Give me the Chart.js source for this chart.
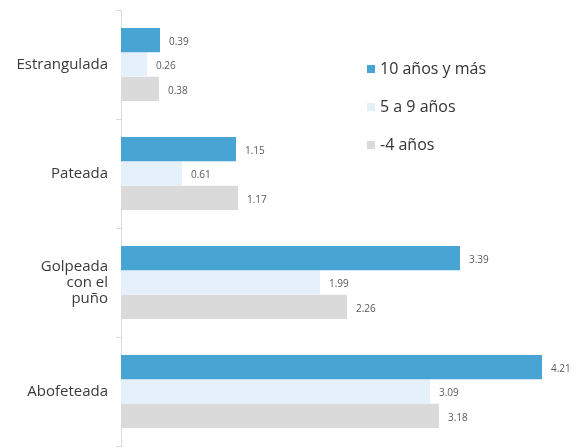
<!DOCTYPE html>
<html>
<head>
<meta charset="utf-8">
<script src="https://cdn.jsdelivr.net/npm/chart.js@4.4.1/dist/chart.umd.min.js"></script>
<style>
  html, body { margin: 0; padding: 0; background: #fff; }
  #wrap { width: 580px; height: 448px; position: relative; }
</style>
</head>
<body>
<div id="wrap"><canvas id="chart"></canvas></div>
<script>
const categories = ["Estrangulada", "Pateada", ["Golpeada", "con el", "puño"], "Abofeteada"];
const seriesNames = ["10 años y más", "5 a 9 años", "-4 años"];
const tenPlus = [0.39, 1.15, 3.39, 4.21];
const fiveToNine = [0.26, 0.61, 1.99, 3.09];
const underFour = [0.38, 1.17, 2.26, 3.18];
const colors = ["#48a5d3", "#e6f0fa", "#dadada"];

// value labels at the end of each bar
const valueLabels = {
  id: "valueLabels",
  afterDatasetsDraw(chart) {
    const ctx = chart.ctx;
    ctx.save();
    ctx.font = "10px 'Open Sans'";
    ctx.fillStyle = "#5a5a5a";
    ctx.textBaseline = "middle";
    ctx.textAlign = "left";
    chart.data.datasets.forEach((ds, i) => {
      chart.getDatasetMeta(i).data.forEach((bar, j) => {
        ctx.fillText(ds.data[j].toFixed(2), bar.x + 9, bar.y + 2);
      });
    });
    ctx.restore();
  }
};

// legend drawn inside the plot, right side
const sideLegend = {
  id: "sideLegend",
  afterDraw(chart) {
    const ctx = chart.ctx;
    ctx.save();
    ctx.font = "16px 'Open Sans'";
    ctx.textBaseline = "middle";
    chart.data.datasets.forEach((ds, i) => {
      const y = 69 + i * 38;
      ctx.fillStyle = ds.backgroundColor;
      ctx.fillRect(367, y - 4, 8, 8);
      ctx.fillStyle = "#333";
      ctx.fillText(ds.label, 380, y);
    });
    ctx.restore();
  }
};

new Chart(document.getElementById("chart"), {
  type: "bar",
  data: {
    labels: categories,
    datasets: [
      { label: seriesNames[0], data: tenPlus, backgroundColor: colors[0] },
      { label: seriesNames[1], data: fiveToNine, backgroundColor: colors[1] },
      { label: seriesNames[2], data: underFour, backgroundColor: colors[2] }
    ]
  },
  options: {
    indexAxis: "y",
    responsive: true,
    maintainAspectRatio: false,
    animation: false,
    categoryPercentage: 0.67,
    barPercentage: 1.0,
    layout: { padding: { top: 10, right: 9, bottom: 2, left: 0 } },
    plugins: {
      legend: { display: false },
      tooltip: { enabled: false }
    },
    scales: {
      x: {
        display: false,
        min: 0,
        max: 4.5
      },
      y: {
        afterFit: (scale) => {
          scale.width = 121;
          scale.paddingTop = 0;
          scale.paddingBottom = 0;
        },
        border: { color: "#d9d9d9" },
        grid: { drawOnChartArea: false, tickLength: 5, color: "#d9d9d9" },
        ticks: {
          color: "#3a3a3a",
          padding: 8,
          font: { family: "'Open Sans'", size: 15, lineHeight: 1.05 }
        }
      }
    }
  },
  plugins: [valueLabels, sideLegend]
});
</script>
</body>
</html>
